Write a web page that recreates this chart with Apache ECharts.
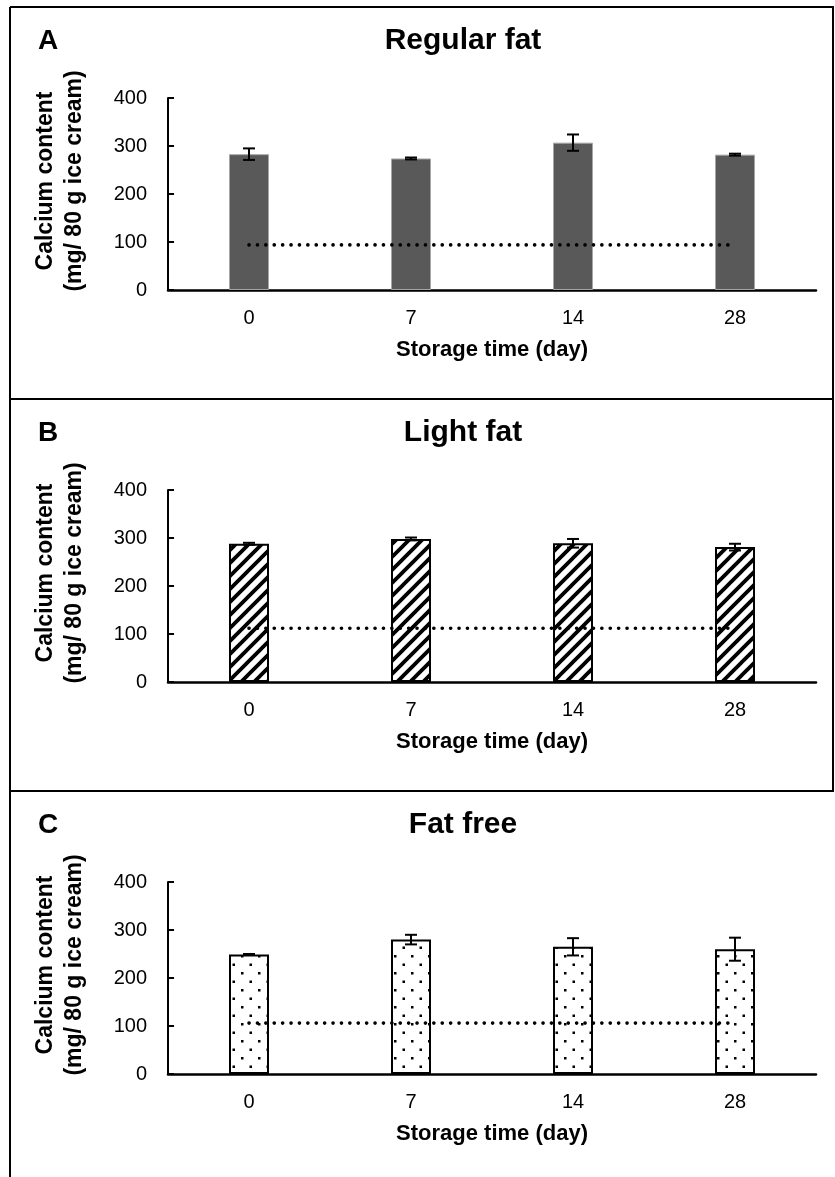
<!DOCTYPE html>
<html>
<head>
<meta charset="utf-8">
<script src="https://cdn.jsdelivr.net/npm/echarts@6/dist/echarts.min.js"></script>
<style>
html, body { margin: 0; padding: 0; background: #fff; }
#chart { width: 835px; height: 1177px; }
</style>
</head>
<body>
<div id="chart"></div>
<script>
// data
var days = ['0', '7', '14', '28'];
var panelLetters = ['A', 'B', 'C'];
var panelNames = ['Regular fat', 'Light fat', 'Fat free'];
var regularMean = [283, 274, 307, 282];
var regularErr = [12, 2, 17, 2];
var lightMean = [288, 298, 289, 281];
var lightErr = [2, 3, 9, 7];
var freeMean = [249, 280, 265, 260];
var freeErr = [1, 10, 18, 24];
var refLevel = [94, 112, 106];   // dotted reference line per panel
var yMin = 0, yMax = 400, yStep = 100;

var FONT = '"Liberation Sans", Arial, sans-serif';

// hatch "/" pattern for light fat
function makeHatch() {
	var p = 13;
	var c = document.createElement('canvas');
	c.width = p; c.height = p;
	var g = c.getContext('2d');
	g.fillStyle = '#fff';
	g.fillRect(0, 0, p, p);
	g.strokeStyle = '#000';
	g.lineWidth = 3.8;
	g.beginPath();
	g.moveTo(0, p); g.lineTo(p, 0);
	g.moveTo(-3, 3); g.lineTo(3, -3);
	g.moveTo(p - 3, p + 3); g.lineTo(p + 3, p - 3);
	g.stroke();
	return c;
}

// sparse dots for fat free
function makeDots() {
	var p = 17;
	var c = document.createElement('canvas');
	c.width = p; c.height = p;
	var g = c.getContext('2d');
	g.fillStyle = '#fff';
	g.fillRect(0, 0, p, p);
	g.fillStyle = '#000';
	g.fillRect(3, 3, 2.5, 2.5);
	g.fillRect(11.5, 11.5, 2.5, 2.5);
	return c;
}

var means = [regularMean, lightMean, freeMean];
var errs = [regularErr, lightErr, freeErr];
var barStyles = [
	{ color: '#595959', borderColor: '#a6a6a6', borderWidth: 1 },
	{ color: { image: makeHatch(), repeat: 'repeat' }, borderColor: '#000', borderWidth: 2 },
	{ color: { image: makeDots(), repeat: 'repeat' }, borderColor: '#000', borderWidth: 2 }
];

function renderErr(params, api) {
	var x = api.value(0);
	var lo = api.coord([x, api.value(1)]);
	var hi = api.coord([x, api.value(2)]);
	var w = 6;
	var s = { stroke: '#000', lineWidth: 2 };
	return {
		type: 'group',
		children: [
			{ type: 'line', shape: { x1: hi[0] - w, y1: hi[1], x2: hi[0] + w, y2: hi[1] }, style: s },
			{ type: 'line', shape: { x1: hi[0], y1: hi[1], x2: lo[0], y2: lo[1] }, style: s },
			{ type: 'line', shape: { x1: lo[0] - w, y1: lo[1], x2: lo[0] + w, y2: lo[1] }, style: s }
		]
	};
}

var STEP = 392;   // vertical distance between panels
var grids = [], xAxes = [], yAxes = [], series = [], titles = [], graphics = [];

for (var i = 0; i < 3; i++) {
	var off = i * STEP;
	grids.push({ left: 168, top: 98 + off, width: 648, height: 192 });
	xAxes.push({
		type: 'category', gridIndex: i, data: days,
		axisLine: { lineStyle: { color: '#000', width: 2.5 } },
		axisTick: { show: false },
		axisLabel: { color: '#000', fontSize: 20, fontFamily: FONT, margin: 18 },
		name: 'Storage time (day)', nameLocation: 'middle', nameGap: 49,
		nameTextStyle: { color: '#000', fontSize: 22, fontWeight: 'bold', fontFamily: FONT }
	});
	yAxes.push({
		type: 'value', gridIndex: i, min: yMin, max: yMax, interval: yStep,
		splitLine: { show: false },
		axisLine: { show: true, lineStyle: { color: '#000', width: 2 } },
		axisTick: { show: true, inside: true, length: 6, lineStyle: { color: '#000', width: 2 } },
		axisLabel: { color: '#000', fontSize: 20, fontFamily: FONT, margin: 21 }
	});
	series.push({
		type: 'bar', xAxisIndex: i, yAxisIndex: i, barWidth: 40,
		data: means[i], itemStyle: barStyles[i], z: 2
	});
	series.push({
		type: 'line', xAxisIndex: i, yAxisIndex: i, symbol: 'none', silent: true,
		data: days.map(function () { return refLevel[i]; }),
		lineStyle: { color: '#000', width: 3.6, type: [0.1, 8.3], cap: 'round' }, z: 4
	});
	series.push({
		type: 'custom', xAxisIndex: i, yAxisIndex: i, renderItem: renderErr, z: 5,
		encode: { x: 0, y: [1, 2] },
		data: means[i].map(function (m, k) { return [k, m - errs[i][k], m + errs[i][k]]; })
	});
	titles.push({
		text: panelNames[i], left: 463, top: 26 + off, textAlign: 'center', padding: 0,
		textStyle: { color: '#000', fontSize: 30, fontWeight: 'bold', fontFamily: FONT }
	});
	titles.push({
		text: panelLetters[i], left: 38, top: 27 + off, padding: 0,
		textStyle: { color: '#000', fontSize: 28, fontWeight: 'bold', fontFamily: FONT }
	});
	graphics.push({
		type: 'text', x: 60, y: 181 + off, rotation: Math.PI / 2,
		style: {
			text: 'Calcium content\n(mg/ 80 g ice cream)', fill: '#000',
			font: 'bold 23px ' + FONT, lineHeight: 29,
			align: 'center', verticalAlign: 'middle'
		}
	});
}

// panel frames
var frame = { stroke: '#000', lineWidth: 2 };
graphics.push(
	{ type: 'line', shape: { x1: 10, y1: 7, x2: 10, y2: 1177 }, style: frame },
	{ type: 'line', shape: { x1: 10, y1: 7, x2: 834, y2: 7 }, style: frame },
	{ type: 'line', shape: { x1: 833, y1: 7, x2: 833, y2: 791 }, style: frame },
	{ type: 'line', shape: { x1: 10, y1: 399, x2: 834, y2: 399 }, style: frame },
	{ type: 'line', shape: { x1: 10, y1: 791, x2: 834, y2: 791 }, style: frame }
);

var myChart = echarts.init(document.getElementById('chart'));
myChart.setOption({
	animation: false,
	backgroundColor: '#fff',
	title: titles,
	grid: grids,
	xAxis: xAxes,
	yAxis: yAxes,
	series: series,
	graphic: graphics
});
</script>
</body>
</html>
